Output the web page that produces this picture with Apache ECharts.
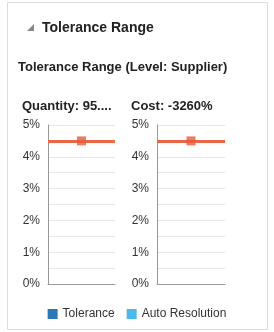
<!DOCTYPE html>
<html>
<head>
<meta charset="utf-8">
<script src="https://cdn.jsdelivr.net/npm/echarts@6/dist/echarts.min.js"></script>
<style>
  html, body { margin: 0; padding: 0; background: #fff; }
  #chart { width: 274px; height: 332px; }
</style>
</head>
<body>
<div id="chart"></div>
<script>
// chart data
const panelTitles = ['Quantity: 95....', 'Cost: -3260%']
const toleranceValues = [4.5, 4.5]
const legendNames = ['Tolerance', 'Auto Resolution']
const legendColors = ['#2c78b6', '#4cb9ea']
const yMin = 0
const yMax = 5

const font = '"Liberation Sans", Arial, sans-serif'
const lineColor = '#ea6645'

const chart = echarts.init(document.getElementById('chart'))

const gridPos = [
  { left: 48, right: 159, top: 125, bottom: 48 },
  { left: 157, right: 49, top: 125, bottom: 48 }
]

const grids = gridPos.map(g => Object.assign({ containLabel: false }, g))
const xAxes = gridPos.map((g, i) => ({
  type: 'category',
  gridIndex: i,
  data: [''],
  axisLine: { lineStyle: { color: '#999', width: 1 } },
  axisTick: { show: false },
  axisLabel: { show: false }
}))
const yAxes = gridPos.map((g, i) => ({
  type: 'value',
  gridIndex: i,
  min: yMin,
  max: yMax,
  interval: 0.5,
  axisLine: { show: true, lineStyle: { color: '#999', width: 1 } },
  axisTick: { show: false },
  splitLine: { lineStyle: { color: '#e6e6e6' } },
  axisLabel: {
    color: '#333',
    fontSize: 12,
    fontFamily: font,
    margin: 8,
    formatter: v => (Number.isInteger(v) ? v + '%' : '')
  }
}))

const series = []
gridPos.forEach((g, i) => {
  legendNames.forEach((name, k) => {
    series.push({
      name: name,
      type: 'bar',
      xAxisIndex: i,
      yAxisIndex: i,
      itemStyle: { color: legendColors[k] },
      data: []
    })
  })
  series.push({
    name: 'Value',
    type: 'scatter',
    xAxisIndex: i,
    yAxisIndex: i,
    symbol: 'rect',
    symbolSize: 9,
    itemStyle: { color: '#e35c3b' },
    z: 5,
    data: [toleranceValues[i]],
    markLine: {
      silent: true,
      symbol: 'none',
      label: { show: false },
      lineStyle: { color: lineColor, width: 3, type: 'solid' },
      data: [{ yAxis: toleranceValues[i] }]
    }
  })
})

const titleStyle = (size) => ({ fontSize: size, fontWeight: 'bold', color: '#222', fontFamily: font })

chart.setOption({
  animation: false,
  textStyle: { fontFamily: font },
  graphic: [
    {
      type: 'rect',
      shape: { x: 7.5, y: 2.5, width: 260, height: 327 },
      style: { fill: '#fff', stroke: '#dcdcdc', lineWidth: 1 },
      z: -10
    },
    {
      type: 'polygon',
      shape: { points: [[34, 24], [34, 31], [27, 31]] },
      style: { fill: '#888' }
    }
  ],
  title: [
    { text: 'Tolerance Range', left: 42, top: 21, padding: 0, textStyle: titleStyle(14) },
    { text: 'Tolerance Range (Level: Supplier)', left: 18, top: 61, padding: 0, textStyle: titleStyle(13) },
    { text: panelTitles[0], left: 22, top: 100, padding: 0, textStyle: titleStyle(13) },
    { text: panelTitles[1], left: 131, top: 100, padding: 0, textStyle: titleStyle(13) }
  ],
  legend: {
    data: legendNames,
    top: 303,
    left: 'center',
    icon: 'rect',
    itemWidth: 10,
    itemHeight: 10,
    itemGap: 12,
    textStyle: { fontSize: 12, color: '#333', fontFamily: font }
  },
  grid: grids,
  xAxis: xAxes,
  yAxis: yAxes,
  series: series
})
</script>
</body>
</html>
